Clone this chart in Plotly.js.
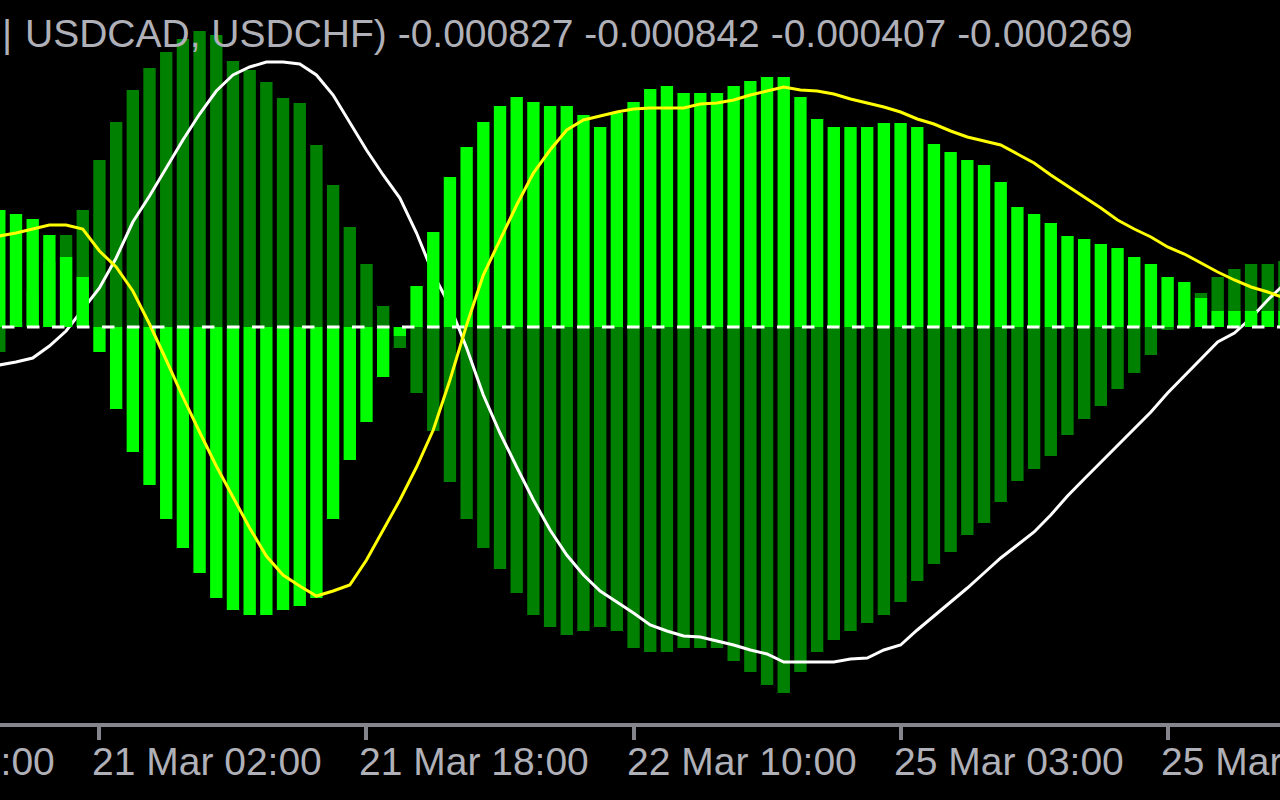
<!DOCTYPE html>
<html>
<head>
<meta charset="utf-8">
<script src="https://cdn.plot.ly/plotly-3.0.1.min.js"></script>
<style>
html,body{margin:0;padding:0;background:#000;overflow:hidden;width:1280px;height:800px;}
#wrap{position:relative;width:1280px;height:800px;overflow:hidden;}
#chart{position:absolute;left:-200px;top:0;width:1480px;height:800px;}
</style>
</head>
<body>
<div id="wrap"><div id="chart"></div></div>
<script>
// Histogram buffer 1 (lime) – one value per hourly bar
const limeHist = [117,113,108,92,70,50,-25,-82,-125,-158,
  -192,-221,-246,-271,-283,-288,-288,-283,-279,-271,
  -192,-133,-95,-50,-9,41,95,150,180,205,
  221,230,225,221,221,212,200,214,225,238,
  241,234,234,234,241,246,250,250,230,208,
  200,200,200,204,204,200,183,175,167,162,
  145,120,113,104,91,88,83,79,70,63,
  50,45,29,16,16,16,16,16];

// Histogram buffer 2 (dark green)
const darkHist = [-25,5,35,65,92,117,167,205,237,259,
  275,288,296,292,266,257,245,229,224,182,
  142,100,63,21,-21,-66,-104,-155,-192,-221,
  -242,-266,-288,-300,-308,-304,-300,-304,-321,-325,
  -325,-321,-321,-321,-334,-345,-358,-366,-345,-325,
  -313,-304,-296,-288,-275,-254,-237,-225,-208,-196,
  -175,-154,-142,-129,-108,-92,-79,-62,-46,-28,
  -3,15,34,50,58,63,63,66];

// Signal line 1 (yellow)
const yellowLine = [91,94,98,102,102,98,76,60,36,3,
  -33,-70,-105,-139,-170,-201,-229,-248,-259,-269,
  -264,-258,-233,-203,-173,-140,-103,-53,2,52,
  87,122,154,177,197,207,211,215,218,219,
  219,219,223,224,227,232,236,240,237,236,
  233,228,224,220,215,208,203,196,190,186,
  182,173,164,152,141,130,119,107,98,90,
  80,73,64,55,47,40,35,29];

// Signal line 2 (white)
const whiteLine = [-38,-35,-31,-19,-4,17,39,69,105,131,
  159,187,213,236,252,260,265,265,263,252,
  232,205,177,152,129,94,53,21,-21,-68,
  -106,-140,-173,-203,-228,-248,-264,-275,-286,-298,
  -304,-309,-310,-314,-318,-323,-327,-335,-335,-335,
  -335,-332,-331,-323,-318,-303,-289,-275,-261,-246,
  -231,-218,-205,-188,-169,-152,-135,-119,-102,-85,
  -66,-49,-32,-15,-6,9,27,43];

// Time axis (bar index of each time label; bar 0 is the first bar on screen)
const tickBars = [-10, 6, 22, 38, 54, 70];
const tickLabels = ['20 Mar 10:00', '21 Mar 02:00', '21 Mar 18:00', '22 Mar 10:00', '25 Mar 03:00', '25 Mar 19:00'];

// Indicator header
const headerMark = '|';
const headerText = 'USDCAD, USDCHF) -0.000827 -0.000842 -0.000407 -0.000269';

const barIdx = limeHist.map((_, i) => i);

// The figure is 200px wider than the window and shifted left by 200px,
// so labels of ticks that lie just left of the visible area can still be drawn.
const hidden = 200;
const W = 1280 + hidden;
const xRange = [-11.942, 76.734];
const yRange = [-396, 327];
const txtColor = '#b0b0b8';
const axisGray = '#85858d';
const font = 'Liberation Sans, Arial, sans-serif';

const traces = [
  {type: 'bar', x: barIdx, y: darkHist, width: 0.74, marker: {color: '#008000', line: {width: 0}},
   xaxis: 'x', yaxis: 'y', hoverinfo: 'skip'},
  {type: 'scatter', mode: 'lines', x: barIdx, y: whiteLine, line: {color: '#ffffff', width: 3},
   xaxis: 'x', yaxis: 'y', hoverinfo: 'skip'},
  {type: 'bar', x: barIdx, y: limeHist, width: 0.74, marker: {color: '#00ff00', line: {width: 0}},
   xaxis: 'x2', yaxis: 'y2', hoverinfo: 'skip'},
  {type: 'scatter', mode: 'lines', x: barIdx, y: yellowLine, line: {color: '#ffff00', width: 3},
   xaxis: 'x2', yaxis: 'y2', hoverinfo: 'skip'}
];

const annotations = tickBars.map((b, i) => ({
  x: b, xref: 'x', y: 0, yref: 'paper',
  text: tickLabels[i], showarrow: false,
  xanchor: 'left', yanchor: 'top', xshift: -8, yshift: -16,
  borderpad: 0,
  font: {family: font, size: 39, color: txtColor}
}));
annotations.push({
  x: 0, xref: 'paper', y: 1, yref: 'paper', text: headerMark, showarrow: false,
  xanchor: 'left', yanchor: 'top', yshift: -11, xshift: hidden + 1, borderpad: 0,
  font: {family: font, size: 39, color: txtColor}
});
annotations.push({
  x: 0, xref: 'paper', y: 1, yref: 'paper', text: headerText, showarrow: false,
  xanchor: 'left', yanchor: 'top', yshift: -11, xshift: hidden + 24, borderpad: 0,
  font: {family: font, size: 39, color: txtColor}
});

const layout = {
  width: W, height: 800,
  paper_bgcolor: '#000000', plot_bgcolor: '#000000',
  margin: {l: 0, r: 0, t: 0, b: 77, pad: 0},
  showlegend: false,
  barmode: 'overlay',
  xaxis: {range: xRange, showgrid: false, zeroline: false, showline: true,
    linecolor: axisGray, linewidth: 4, ticks: 'outside', ticklen: 13, tickwidth: 4,
    tickcolor: axisGray, tickmode: 'array', tickvals: tickBars, showticklabels: false, fixedrange: true},
  yaxis: {range: yRange, showgrid: false, zeroline: false, showline: false,
    showticklabels: false, ticks: '', fixedrange: true},
  xaxis2: {range: xRange, overlaying: 'x', visible: false, fixedrange: true},
  yaxis2: {range: yRange, overlaying: 'y', visible: false, fixedrange: true},
  shapes: [{type: 'line', xref: 'paper', x0: (hidden + 2) / W, x1: 1, yref: 'y', y0: 0, y1: 0,
    layer: 'above', line: {color: '#ffffff', width: 3, dash: '12.5px,12.5px'}}],
  annotations: annotations,
  font: {family: font, color: txtColor}
};

Plotly.newPlot('chart', traces, layout, {staticPlot: true, displayModeBar: false});
</script>
</body>
</html>
